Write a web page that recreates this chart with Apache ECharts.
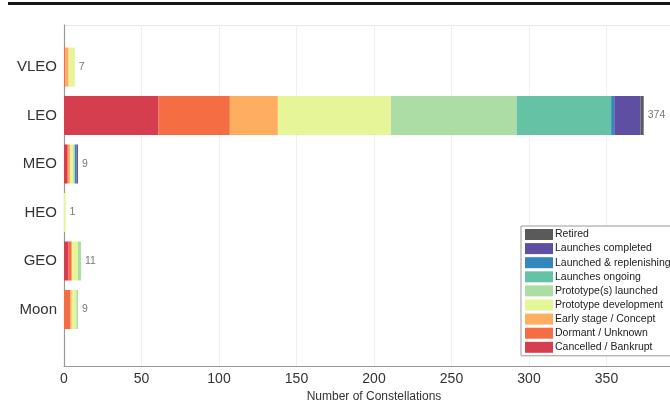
<!DOCTYPE html>
<html>
<head>
<meta charset="utf-8">
<script src="https://cdn.jsdelivr.net/npm/echarts@6/dist/echarts.min.js"></script>
<style>html,body{margin:0;padding:0;background:#fff;}#c{width:670px;height:401px;}</style>
</head>
<body>
<div id="c"></div>
<script>
const categories = ['VLEO', 'LEO', 'MEO', 'HEO', 'GEO', 'Moon'];
const xTicks = [0, 50, 100, 150, 200, 250, 300, 350, 400];
// values per status, order matches categories
const cancelled    = [0, 61, 2, 0, 3, 0];
const dormant      = [1, 46, 1, 0, 2, 4];
const earlyStage   = [2, 31, 1, 0, 0, 1];
const protoDev     = [4, 73, 2, 1, 4, 3];
const protoLaunch  = [0, 81, 1, 0, 2, 1];
const ongoing      = [0, 61, 0, 0, 0, 0];
const replenishing = [0, 2, 1, 0, 0, 0];
const completed    = [0, 17, 1, 0, 0, 0];
const retired      = [0, 2, 0, 0, 0, 0];

const statusNames = ['Cancelled / Bankrupt', 'Dormant / Unknown', 'Early stage / Concept',
  'Prototype development', 'Prototype(s) launched', 'Launches ongoing',
  'Launched & replenishing', 'Launches completed', 'Retired'];
const statusData = [cancelled, dormant, earlyStage, protoDev, protoLaunch, ongoing, replenishing, completed, retired];
const statusColors = ['#d53e4f', '#f46d43', '#fdae61', '#e6f598', '#abdda4', '#66c2a5', '#3288bd', '#5e4fa2', '#5a5a5a'];

const totals = categories.map((c, i) => statusData.reduce((s, arr) => s + arr[i], 0));

const chart = echarts.init(document.getElementById('c'), null, {renderer: 'canvas'});
const FONT = 'Liberation Sans, Arial, sans-serif';

const series = statusNames.map((n, k) => ({
  name: n, type: 'bar', stack: 'total', xAxisIndex: 1, yAxisIndex: 1,
  barWidth: 39, data: statusData[k], itemStyle: {color: statusColors[k]},
  emphasis: {disabled: true}
}));
series.push({
  type: 'scatter', xAxisIndex: 1, yAxisIndex: 1, symbolSize: 0, silent: true,
  data: totals.map((t, i) => [t, categories[i]]),
  label: {show: true, position: 'right', distance: 4, formatter: p => p.value[0],
    fontSize: 10.5, color: '#555', fontFamily: FONT}
});

chart.setOption({
  animation: false,
  backgroundColor: '#fff',
  graphic: [{type: 'rect', shape: {x: 8, y: 2, width: 662, height: 3}, style: {fill: '#151515'}}],
  grid: [
    {left: 64, width: 620, top: 25, bottom: 35, outerBoundsMode: 'none', containLabel: false},
    {left: 64, width: 620, top: 42.75, bottom: 67.25, outerBoundsMode: 'none', containLabel: false}
  ],
  xAxis: [
    {gridIndex: 0, type: 'value', min: 0, max: 400, interval: 50,
      name: 'Number of Constellations', nameLocation: 'middle', nameGap: 19,
      nameTextStyle: {fontSize: 12, color: '#333', fontFamily: FONT},
      axisLine: {show: true, lineStyle: {color: '#999', width: 1.2}},
      axisTick: {show: false},
      axisLabel: {fontSize: 14, color: '#333', margin: 6, fontFamily: FONT,
        formatter: v => xTicks.includes(v) ? String(v) : ''},
      splitLine: {show: true, lineStyle: {color: '#efefef'}}},
    {gridIndex: 1, type: 'value', min: 0, max: 400, show: false}
  ],
  yAxis: [
    {gridIndex: 0, type: 'value', min: 0, max: 1, interval: 1,
      axisLine: {show: true, lineStyle: {color: '#999', width: 1.2}},
      axisTick: {show: false}, axisLabel: {show: false},
      splitLine: {show: true, lineStyle: {color: '#e8e8e8'}}},
    {gridIndex: 1, type: 'category', data: categories, inverse: true,
      axisLine: {show: false}, axisTick: {show: false},
      axisLabel: {fontSize: 15, color: '#333', margin: 7, fontFamily: FONT},
      splitLine: {show: false}}
  ],
  legend: {
    orient: 'vertical', left: 521, top: 226,
    data: statusNames.slice().reverse(),
    icon: 'rect', itemWidth: 28, itemHeight: 11, itemGap: 3.1,
    padding: [3, 30, 3, 4],
    borderColor: '#999', borderWidth: 1, backgroundColor: '#fff',
    textStyle: {fontSize: 10.5, color: '#222', fontFamily: FONT, padding: [0, 0, 0, -3]},
    selectedMode: false
  },
  series: series
});
</script>
</body>
</html>
